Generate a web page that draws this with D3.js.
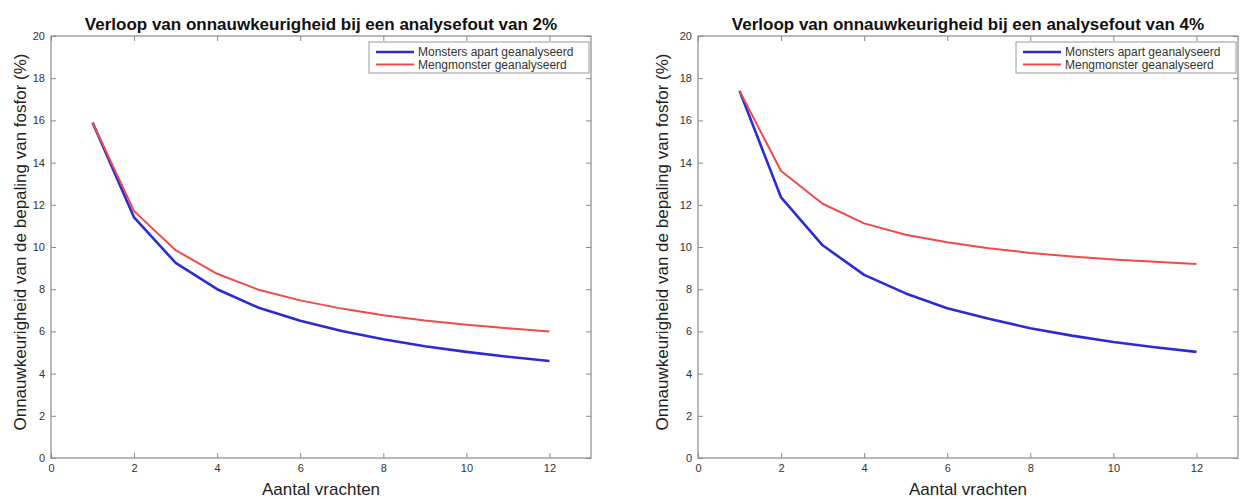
<!DOCTYPE html>
<html>
<head>
<meta charset="utf-8">
<script src="https://cdn.jsdelivr.net/npm/d3@7"></script>
<style>
  body { margin: 0; background: #fff; }
  svg { display: block; font-family: "Liberation Sans", Arial, sans-serif; }
</style>
</head>
<body>
<svg id="chart" width="1243" height="498"></svg>
<script>
// data
const vrachten = [1, 2, 3, 4, 5, 6, 7, 8, 9, 10, 11, 12];
const apart2 = [15.9, 11.4, 9.25, 8.0, 7.12, 6.5, 6.02, 5.63, 5.3, 5.03, 4.8, 4.6];
const meng2 = [15.9, 11.7, 9.85, 8.73, 7.97, 7.47, 7.08, 6.77, 6.52, 6.32, 6.15, 6.0];
const apart4 = [17.4, 12.35, 10.08, 8.68, 7.8, 7.1, 6.6, 6.15, 5.8, 5.5, 5.25, 5.03];
const meng4 = [17.4, 13.6, 12.05, 11.12, 10.58, 10.22, 9.94, 9.72, 9.55, 9.41, 9.3, 9.2];
const titles = [
    "Verloop van onnauwkeurigheid bij een analysefout van 2%",
    "Verloop van onnauwkeurigheid bij een analysefout van 4%"
];
const seriesNames = ["Monsters apart geanalyseerd", "Mengmonster geanalyseerd"];
const xTicks = [0, 2, 4, 6, 8, 10, 12];
const yTicks = [0, 2, 4, 6, 8, 10, 12, 14, 16, 18, 20];
const xLabel = "Aantal vrachten";
const yLabel = "Onnauwkeurigheid van de bepaling van fosfor (%)";

const colors = ["#2b2bd6", "#f04a4a"];
const widths = [2.6, 2];
const axisColor = "#8a8a8a";
const textColor = "#333";

const svg = d3.select("#chart");

/** draw one MATLAB-like panel
 * @param {object} o panel params: left, right, top, bottom, ylabX, title, series
 */
const drawPanel = ({left, right, top, bottom, ylabX, title, series}) => {
    const g = svg.append("g");
    const x = d3.scaleLinear().domain([0, 13]).range([left, right]);
    const y = d3.scaleLinear().domain([0, 20]).range([bottom, top]);

    // box
    g.append("rect")
        .attr("x", left).attr("y", top)
        .attr("width", right - left).attr("height", bottom - top)
        .attr("fill", "none").attr("stroke", axisColor).attr("stroke-width", 1.2);

    // axes with inward ticks
    const styleAxis = sel => {
        sel.select(".domain").remove();
        sel.selectAll(".tick line").attr("stroke", axisColor);
        sel.selectAll(".tick text")
            .attr("fill", textColor)
            .style("font-size", "11px");
    };
    g.append("g").attr("transform", `translate(0,${bottom})`)
        .call(d3.axisBottom(x).tickValues(xTicks).tickFormat(d3.format("d"))
            .tickSizeInner(-5).tickPadding(6))
        .call(styleAxis);
    g.append("g").attr("transform", `translate(0,${top})`)
        .call(d3.axisTop(x).tickValues(xTicks).tickFormat("").tickSizeInner(-5))
        .call(styleAxis);
    g.append("g").attr("transform", `translate(${left},0)`)
        .call(d3.axisLeft(y).tickValues(yTicks).tickFormat(d3.format("d"))
            .tickSizeInner(-5).tickPadding(6))
        .call(styleAxis);
    g.append("g").attr("transform", `translate(${right},0)`)
        .call(d3.axisRight(y).tickValues(yTicks).tickFormat("").tickSizeInner(-5))
        .call(styleAxis);

    // lines
    const line = d3.line()
        .x((d, i) => x(vrachten[i]))
        .y(d => y(d));
    series.forEach((vals, k) => {
        g.append("path")
            .datum(vals)
            .attr("d", line)
            .attr("fill", "none")
            .attr("stroke", colors[k])
            .attr("stroke-width", widths[k])
            .attr("stroke-linejoin", "round");
    });

    // title and labels
    g.append("text")
        .attr("x", (left + right) / 2).attr("y", 30)
        .attr("text-anchor", "middle")
        .style("font-size", "17px").style("font-weight", "bold")
        .attr("fill", "#111")
        .text(title);
    g.append("text")
        .attr("x", (left + right) / 2).attr("y", 495)
        .attr("text-anchor", "middle")
        .style("font-size", "17px")
        .attr("fill", "#222")
        .text(xLabel);
    g.append("text")
        .attr("transform", `translate(${ylabX},242) rotate(-90)`)
        .attr("text-anchor", "middle")
        .attr("dy", "0.35em")
        .style("font-size", "17px")
        .attr("fill", "#222")
        .text(yLabel);

    // legend
    const lg = g.append("g").attr("transform", `translate(${right - 222},${top + 6})`);
    lg.append("rect")
        .attr("width", 220).attr("height", 31)
        .attr("fill", "#fff").attr("stroke", "#999");
    seriesNames.forEach((name, k) => {
        const ly = 10 + k * 12.5;
        lg.append("line")
            .attr("x1", 7).attr("x2", 45).attr("y1", ly).attr("y2", ly)
            .attr("stroke", colors[k]).attr("stroke-width", widths[k]);
        lg.append("text")
            .attr("x", 49).attr("y", ly).attr("dy", "0.35em")
            .style("font-size", "12px")
            .attr("fill", textColor)
            .text(name);
    });
};

drawPanel({left: 51, right: 591, top: 36, bottom: 458, ylabX: 20, title: titles[0], series: [apart2, meng2]});
drawPanel({left: 698, right: 1238, top: 36, bottom: 458, ylabX: 662, title: titles[1], series: [apart4, meng4]});
</script>
</body>
</html>
